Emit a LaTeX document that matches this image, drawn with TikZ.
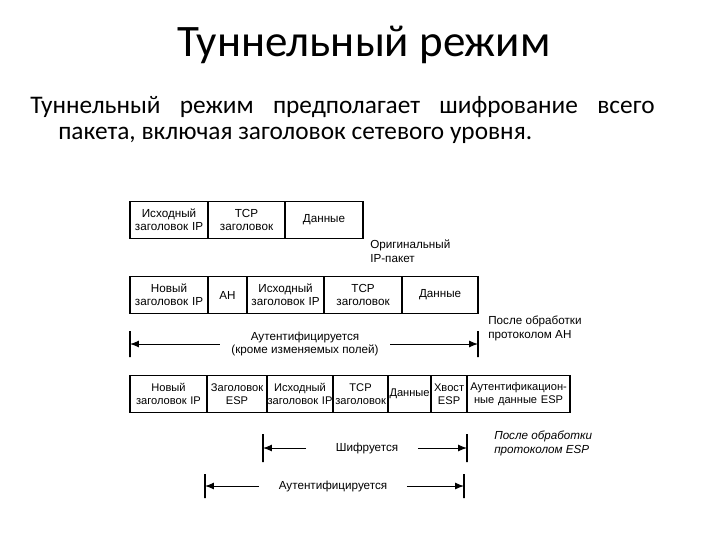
\documentclass[tikz,border=0pt]{standalone}
\usepackage{fontspec}
\setmainfont{Carlito}
\newfontfamily\diagfont{Liberation Sans}
\usetikzlibrary{arrows.meta,positioning}

\begin{document}
\begin{tikzpicture}[x=0.025cm,y=-0.025cm,
  cell/.style={draw,line width=0.9pt,inner xsep=0pt,inner ysep=1pt,outer sep=0pt,align=center,
    minimum height=0.925cm,minimum width=#1,text width=#1,font=\diagfont\fontsize{8.3}{9.4}\selectfont},
  tight/.style={font=\diagfont\fontsize{7.9}{9.4}\selectfont},
  note/.style={anchor=north west,align=left,inner sep=0pt,font=\diagfont\fontsize{8.3}{9.4}\selectfont},
  span/.style={align=center,inner sep=1pt,font=\diagfont\fontsize{8.3}{9.4}\selectfont},
  tick/.style={draw,line width=0.8pt,minimum width=0pt,minimum height=#1,inner sep=0pt,outer sep=0pt},
  ar/.style={-{Latex[length=2.2mm,width=1.7mm]},line width=0.7pt,shorten <=0.25cm}]
  \useasboundingbox (0,0) rectangle (720,540);
  % title and text
  \node[font=\fontsize{32}{38}\selectfont] (title) at (364,45) {Туннельный режим};
  \node[anchor=west,inner sep=0pt,font=\fontsize{18}{22}\selectfont] (txt1) at (30,107)
       {\makebox[15.6cm][s]{Туннельный режим предполагает шифрование всего}};
  \node[anchor=west,inner sep=0pt,font=\fontsize{18}{22}\selectfont] (txt2) at (58,135)
       {пакета, включая заголовок сетевого уровня.};
  % original IP packet
  \node[cell=1.95cm,anchor=west] (oip1) at (130,220) {Исходный\\заголовок IP};
  \node[cell=1.925cm,right=0pt of oip1] (otcp1) {TCP\\заголовок};
  \node[cell=1.95cm,right=0pt of otcp1] (odat1) {Данные};
  \node[note] (orig) at (370,240) {Оригинальный\\IP-пакет};
  % after AH
  \node[cell=1.95cm,anchor=west] (nip2) at (130,295) {Новый\\заголовок IP};
  \node[cell=0.975cm,right=0pt of nip2] (ah2) {AH};
  \node[cell=1.925cm,right=0pt of ah2] (oip2) {Исходный\\заголовок IP};
  \node[cell=1.95cm,right=0pt of oip2] (tcp2) {TCP\\заголовок};
  \node[cell=1.9cm,right=0pt of tcp2] (dat2) {Данные};
  \node[note] (ahnote) at (488,316) {После обработки\\протоколом АН};
  \node[tick=0.65cm] (ahl) at (130,344) {};
  \node[tick=0.65cm] (ahr) at (478,344) {};
  \node[span] (ahauth) at (305,344) {Аутентифицируется\\(кроме изменяемых полей)};
  \draw[ar] (ahauth.west) -- (ahl);
  \draw[ar] (ahauth.east) -- (ahr);
  % after ESP
  \node[cell=1.925cm,tight,anchor=west] (nip3) at (130,394) {Новый\\заголовок IP};
  \node[cell=1.5cm,tight,right=0pt of nip3] (esph3) {Заголовок\\ESP};
  \node[cell=1.65cm,tight,right=0pt of esph3] (oip3) {Исходный\\\mbox{заголовок IP}};
  \node[cell=1.375cm,tight,right=0pt of oip3] (tcp3) {TCP\\заголовок};
  \node[cell=1.075cm,tight,right=0pt of tcp3] (dat3) {Данные};
  \node[cell=0.9cm,tight,right=0pt of dat3] (espt3) {Хвост\\ESP};
  \node[cell=2.575cm,tight,right=0pt of espt3] (espa3) {Аутентификацион-\\ные данные ESP};
  \node[note,font=\diagfont\itshape\fontsize{8.3}{9.4}\selectfont] (espnote) at (494,431) {После обработки\\протоколом ESP};
  \node[tick=0.7cm] (encl) at (263,448) {};
  \node[tick=0.7cm] (encr) at (467,448) {};
  \node[span] (enc) at (367,448) {Шифруется};
  \draw[ar,shorten <=0.7cm] (enc.west) -- (encl);
  \draw[ar,shorten <=0.45cm] (enc.east) -- (encr);
  \node[tick=0.6cm] (authl) at (205,486) {};
  \node[tick=0.6cm] (authr) at (464,486) {};
  \node[span] (auth) at (333,486) {Аутентифицируется};
  \draw[ar,shorten <=0.45cm] (auth.west) -- (authl);
  \draw[ar,shorten <=0.45cm] (auth.east) -- (authr);
\end{tikzpicture}
\end{document}
